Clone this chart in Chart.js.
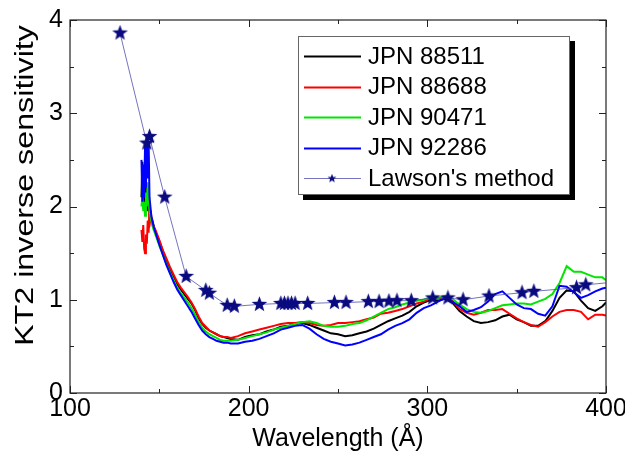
<!DOCTYPE html>
<html><head><meta charset="utf-8">
<script src="https://cdn.jsdelivr.net/npm/chart.js@4/dist/chart.umd.min.js"></script>
<style>html,body{margin:0;padding:0;background:#fff;overflow:hidden}</style>
</head><body>
<canvas id="c" width="625" height="457"></canvas>
<script>
// ---- data ----
const wavelength = [140,140.5,141,141.5,142,142.5,143,143.5,144,144.5,145,145.5,146,147,148,150,152,154,156,158,160,162,164,166,168,170,172,174,176,178,180,182,184,186,188,
190,194,198,202,206,210,214,218,222,226,230,234,238,242,246,250,254,258,262,266,270,274,278,282,286,290,294,298,302,306,310,314,318,322,326,330,334,338,342,346,350,354,358,362,366,370,374,378,382,386,390,394,398,400];

const jpn88511 = [2.10,2.48,2.25,2.05,2.30,2.00,2.15,1.95,2.10,1.90,1.92,1.85,1.86,1.78,1.72,1.63,1.52,1.42,1.33,1.25,1.17,1.11,1.06,1.01,0.96,0.89,0.80,0.74,0.70,0.67,0.65,0.63,0.61,0.60,0.59,
0.58,0.57,0.60,0.62,0.63,0.66,0.68,0.71,0.72,0.74,0.75,0.73,0.70,0.67,0.64,0.63,0.61,0.62,0.64,0.66,0.69,0.73,0.77,0.80,0.83,0.87,0.93,0.97,1.00,0.99,1.01,0.97,0.88,0.82,0.77,0.75,0.76,0.78,0.82,0.84,0.79,0.76,0.72,0.72,0.77,0.88,1.02,1.10,1.09,0.99,0.91,0.88,0.93,0.97];

const jpn88688 = [1.75,1.62,1.80,1.55,1.50,1.70,1.60,1.85,1.72,2.00,1.85,1.90,1.82,1.78,1.74,1.64,1.53,1.44,1.35,1.27,1.19,1.13,1.08,1.03,0.97,0.90,0.82,0.75,0.71,0.67,0.65,0.63,0.61,0.60,0.60,
0.59,0.61,0.64,0.66,0.68,0.70,0.72,0.74,0.75,0.75,0.76,0.75,0.73,0.72,0.73,0.75,0.75,0.76,0.77,0.79,0.81,0.85,0.86,0.88,0.90,0.93,0.96,0.98,1.02,1.01,1.03,0.99,0.90,0.86,0.84,0.86,0.89,0.89,0.90,0.85,0.80,0.76,0.73,0.71,0.76,0.82,0.87,0.89,0.89,0.87,0.79,0.84,0.84,0.83];

const jpn90471 = [2.00,2.10,1.95,2.05,1.90,2.15,2.00,2.26,2.10,1.95,1.90,1.85,1.80,1.74,1.69,1.58,1.48,1.38,1.29,1.21,1.13,1.07,1.02,0.97,0.91,0.84,0.76,0.70,0.66,0.63,0.61,0.59,0.57,0.56,0.56,
0.56,0.57,0.59,0.61,0.63,0.65,0.68,0.70,0.72,0.74,0.76,0.77,0.75,0.72,0.71,0.71,0.72,0.74,0.75,0.78,0.82,0.86,0.90,0.92,0.95,0.97,0.99,1.00,1.03,1.02,1.04,1.01,0.95,0.90,0.87,0.86,0.88,0.91,0.94,0.95,0.96,0.96,0.95,0.98,1.01,1.06,1.18,1.36,1.30,1.30,1.27,1.24,1.24,1.21];

const jpn92286 = [2.50,2.05,2.45,2.10,2.65,2.20,2.75,2.30,2.70,2.10,2.00,1.90,1.85,1.77,1.71,1.59,1.48,1.37,1.28,1.19,1.11,1.05,0.99,0.93,0.87,0.80,0.73,0.67,0.63,0.60,0.58,0.56,0.55,0.54,0.54,
0.53,0.53,0.55,0.56,0.58,0.61,0.64,0.68,0.70,0.72,0.73,0.69,0.63,0.58,0.55,0.53,0.51,0.52,0.54,0.57,0.60,0.63,0.68,0.72,0.75,0.79,0.86,0.91,0.94,0.98,1.02,0.98,0.93,0.87,0.89,0.92,0.98,1.06,1.09,1.02,0.95,0.91,0.90,0.85,0.83,0.93,1.15,1.14,1.08,1.02,1.05,1.09,1.12,1.13];

const lawsonX = [128,143,144.5,153,165,176,178,188,192,206,218,220,222,224,226,233,248,254.5,267,273,278.5,283,291,303,311.5,320,334.5,353,359.6,383.5,388.7,405];
const lawsonY = [3.86,2.68,2.75,2.10,1.25,1.10,1.07,0.94,0.93,0.95,0.96,0.96,0.96,0.96,0.96,0.96,0.97,0.97,0.98,0.98,0.985,0.99,0.99,1.02,1.02,1.00,1.04,1.076,1.09,1.13,1.16,1.19];

const seriesNames = ['JPN 88511','JPN 88688','JPN 90471','JPN 92286',"Lawson's method"];
const xTitle = 'Wavelength (Å)';
const yTitle = 'KT2 inverse sensitivity';
const xRange = [100, 400];
const yRange = [0, 4];
const xStep = 100, yStep = 1;

// ---- styling / helpers ----
const FONT = "'Liberation Sans', Arial, sans-serif";
function makeStar(size, color) {
  const c = document.createElement('canvas');
  c.width = size; c.height = size;
  const g = c.getContext('2d');
  const cx = size / 2, cy = size / 2, R = size / 2 - 0.3, r = R * 0.42;
  g.beginPath();
  for (let i = 0; i < 10; i++) {
    const a = -Math.PI / 2 + i * Math.PI / 5;
    const rr = i % 2 === 0 ? R : r;
    g.lineTo(cx + rr * Math.cos(a), cy + rr * Math.sin(a));
  }
  g.closePath();
  g.fillStyle = color; g.fill();
  return c;
}
const bigStar = makeStar(17, '#0a0a80');
const smallStar = makeStar(10, '#0a0a80');

function pts(xs, ys) { return xs.map((x, i) => ({x: x, y: ys[i]})); }

const colors = ['#000000', '#ff0000', '#00e600', '#0000ff'];
const spectra = [jpn88511, jpn88688, jpn90471, jpn92286];

const datasets = spectra.map((s, i) => ({
  label: seriesNames[i],
  data: pts(wavelength, s),
  borderColor: colors[i],
  borderWidth: 2,
  pointRadius: 0,
  tension: 0,
  fill: false,
  order: 5 - i
}));
datasets.push({
  label: seriesNames[4],
  data: pts(lawsonX, lawsonY),
  borderColor: 'rgba(70,70,170,0.75)',
  borderWidth: 1,
  pointStyle: bigStar,
  pointRadius: 8,
  tension: 0,
  fill: false,
  order: 1
});

const framePlugin = {
  id: 'frame',
  afterDraw(chart) {
    const ctx = chart.ctx, a = chart.chartArea;
    const xs = chart.scales.x, ys = chart.scales.y;
    ctx.save();
    ctx.strokeStyle = '#222';
    ctx.lineWidth = 1.2;
    ctx.strokeRect(a.left, a.top, a.right - a.left, a.bottom - a.top);
    ctx.lineWidth = 1;
    ctx.beginPath();
    for (let v = xRange[0]; v <= xRange[1]; v += xStep / 2) {
      const px = Math.round(xs.getPixelForValue(v)) + 0.5;
      const len = (v % xStep === 0) ? 7 : 4;
      ctx.moveTo(px, a.bottom); ctx.lineTo(px, a.bottom - len);
      ctx.moveTo(px, a.top); ctx.lineTo(px, a.top + len);
    }
    for (let v = yRange[0]; v <= yRange[1]; v += yStep / 2) {
      const py = Math.round(ys.getPixelForValue(v)) + 0.5;
      const len = (v % yStep === 0) ? 7 : 4;
      ctx.moveTo(a.left, py); ctx.lineTo(a.left + len, py);
      ctx.moveTo(a.right, py); ctx.lineTo(a.right - len, py);
    }
    ctx.stroke();

    // y axis title (stretched along its length like the reference)
    ctx.save();
    ctx.translate(33, (a.top + a.bottom) / 2 - 21);
    ctx.rotate(-Math.PI / 2);
    ctx.scale(1.29, 1);
    ctx.font = '25px ' + FONT;
    ctx.fillStyle = '#000';
    ctx.textAlign = 'center';
    ctx.textBaseline = 'alphabetic';
    ctx.fillText(yTitle, 0, 0);
    ctx.restore();

    // legend box
    const L = {x: 298, y: 36, w: 272, h: 159};
    ctx.fillStyle = '#000';
    ctx.fillRect(L.x + 5, L.y + 5, L.w, L.h);
    ctx.fillStyle = '#fff';
    ctx.fillRect(L.x, L.y, L.w, L.h);
    ctx.strokeStyle = '#666';
    ctx.lineWidth = 1;
    ctx.strokeRect(L.x + 0.5, L.y + 0.5, L.w - 1, L.h - 1);
    ctx.font = '24px ' + FONT;
    ctx.textBaseline = 'middle';
    ctx.textAlign = 'left';
    chart.data.datasets.forEach((d, i) => {
      const y = 56 + i * 30.6;
      ctx.strokeStyle = d.borderColor;
      ctx.lineWidth = d.borderWidth;
      ctx.beginPath();
      ctx.moveTo(304, Math.round(y) + 0.5); ctx.lineTo(361, Math.round(y) + 0.5);
      ctx.stroke();
      if (i === 4) ctx.drawImage(smallStar, 332 - 5, Math.round(y) - 4.5);
      ctx.fillStyle = '#000';
      ctx.fillText(d.label, 368, y + 1);
    });
    ctx.restore();
  }
};

new Chart(document.getElementById('c'), {
  type: 'line',
  data: {datasets: datasets},
  options: {
    responsive: false,
    animation: false,
    devicePixelRatio: 1,
    layout: {padding: {top: 20, right: 19, left: 0, bottom: 0}},
    plugins: {legend: {display: false}, tooltip: {enabled: false}},
    scales: {
      x: {
        type: 'linear', min: xRange[0], max: xRange[1],
        ticks: {stepSize: xStep, color: '#000', font: {family: FONT, size: 25}, padding: 1, maxRotation: 0},
        grid: {drawOnChartArea: false, drawTicks: false},
        border: {display: false},
        title: {display: true, text: xTitle, color: '#000', font: {family: FONT, size: 25}, padding: {top: 0, bottom: 3}},
        afterFit(s) { s.height = 64; s.paddingLeft = 0; s.paddingRight = 0; }
      },
      y: {
        type: 'linear', min: yRange[0], max: yRange[1],
        ticks: {stepSize: yStep, color: '#000', font: {family: FONT, size: 25}, padding: 7},
        grid: {drawOnChartArea: false, drawTicks: false},
        border: {display: false},
        title: {display: false},
        afterFit(s) { s.width = 70; s.paddingTop = 0; s.paddingBottom = 0; }
      }
    }
  },
  plugins: [framePlugin]
});
</script>
</body></html>
